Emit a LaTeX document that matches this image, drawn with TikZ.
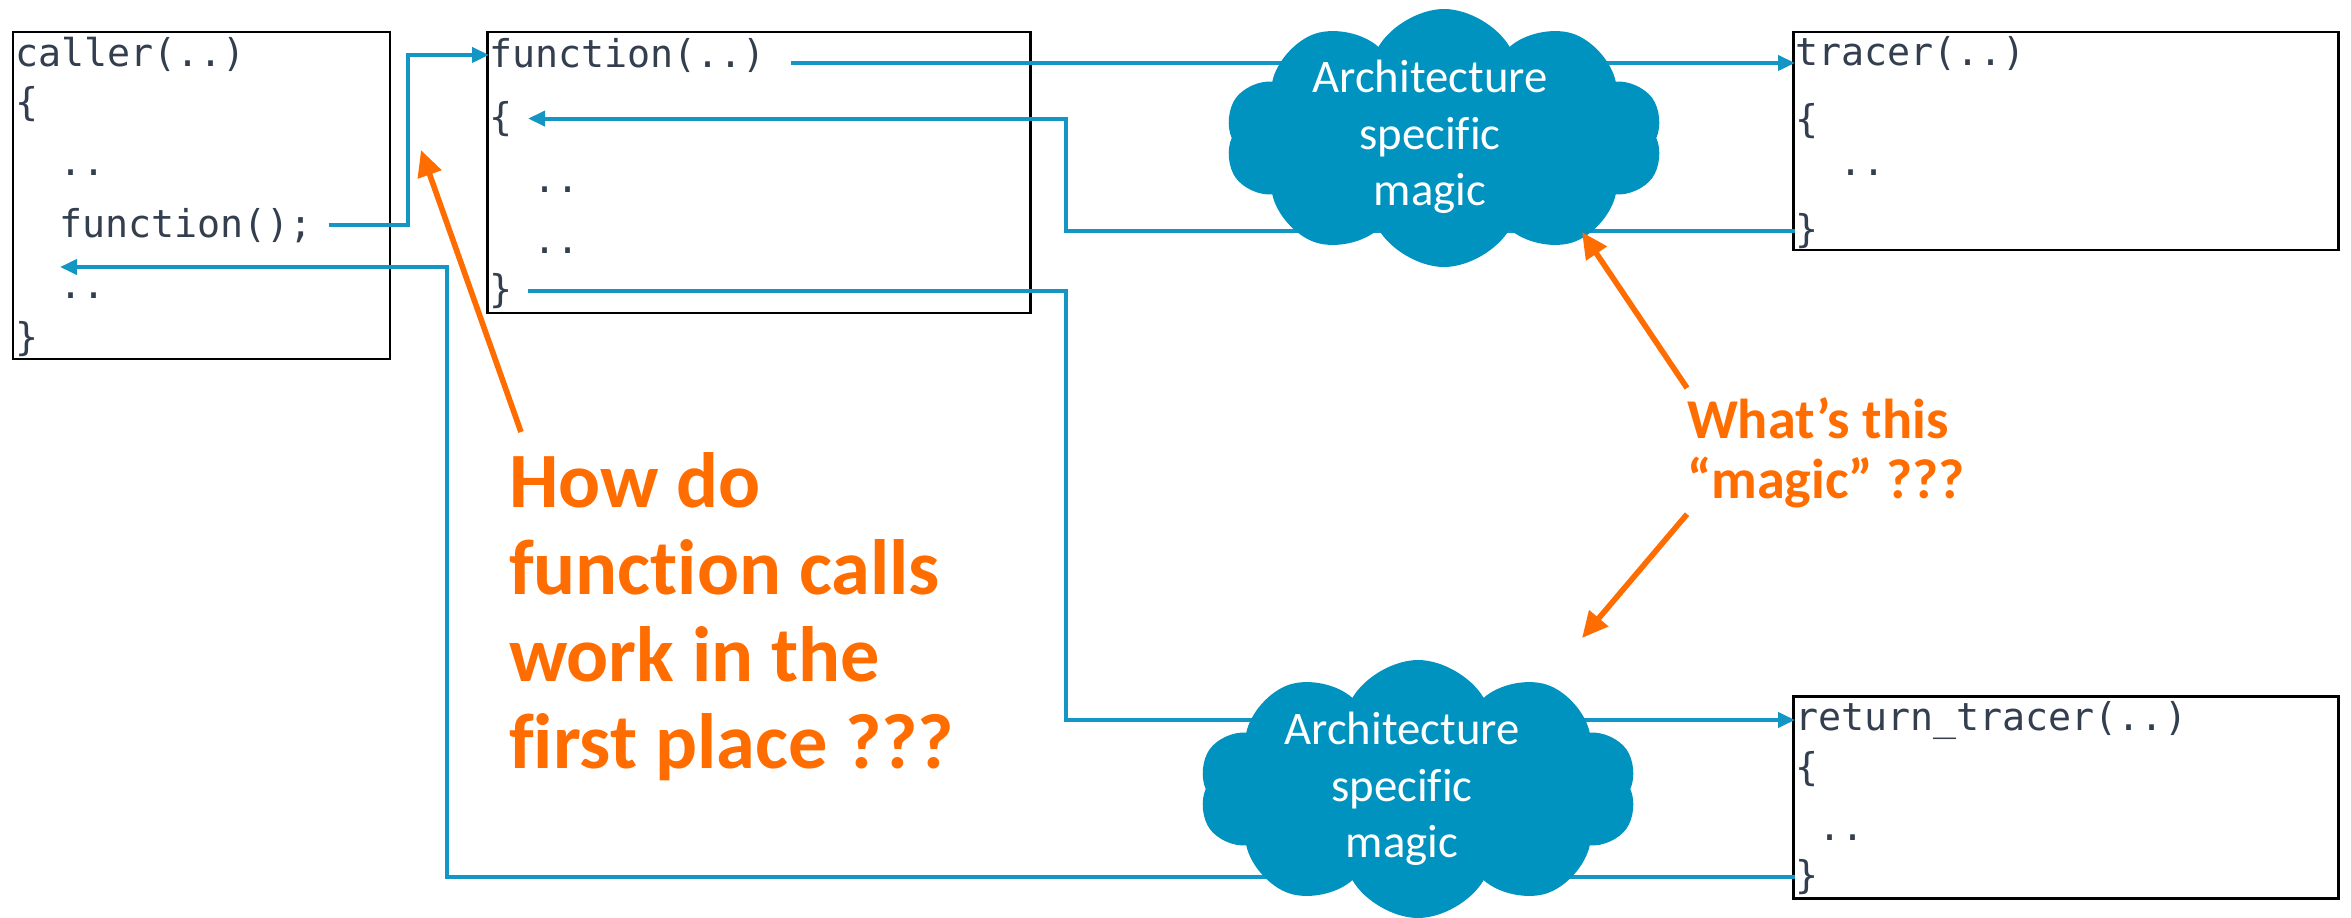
\documentclass[tikz,border=0pt]{standalone}
\usepackage{fontspec}
\setmainfont{Carlito}[Ligatures=CommonOff]
\newfontfamily\codefont{DejaVu Sans Mono}
\usepackage{tikz}
\usetikzlibrary{arrows.meta,positioning,shapes.symbols}

\definecolor{codegray}{HTML}{333F4F}
\definecolor{magicblue}{HTML}{0093BF}
\definecolor{wireblue}{HTML}{1396C3}
\definecolor{hintorange}{HTML}{FF6C00}

\begin{document}
\begin{tikzpicture}[x=0.1mm, y=-0.1mm, >={Triangle[length=1.7mm,width=1.5mm]},
    every node/.style={inner sep=0pt, outer sep=0pt},
    codebox/.style={draw=black, line width=0.85pt, anchor=north west},
    code/.style={anchor=base west, text=codegray, font=\codefont\fontsize{10.9}{13}\selectfont},
    wire/.style={->, draw=wireblue, line width=1.1pt},
    magic/.style={cloud, cloud puffs=10, cloud puff arc=120, cloud ignores aspect,
                  fill=magicblue, minimum width=43.8mm, minimum height=25.8mm},
    magictext/.style={text=white, align=center, font=\fontsize{13.3}{16}\selectfont},
    hint/.style={text=hintorange, align=left, anchor=north west, font=\bfseries\fontsize{22.3}{24.8}\selectfont},
    hintarrow/.style={-{Triangle[length=2.6mm,width=2.4mm]}, draw=hintorange, line width=1.6pt}
    ]
% \draw[help lines] (0,0) grid[step=100] (2351,917);
\useasboundingbox[fill=white] (0,0) rectangle (2351,917);

% the four code boxes
\node[codebox, minimum width=37.7mm, minimum height=32.7mm] (callerbox) at (13,32) {};
\node[codebox, minimum width=54.3mm, minimum height=28.1mm] (funcbox)   at (487,32) {};
\node[codebox, minimum width=54.5mm, minimum height=21.8mm] (tracerbox) at (1793,32) {};
\node[codebox, minimum width=54.5mm, minimum height=20.2mm] (retbox)    at (1793,696) {};

\node[code] (callerhead)  at (15,66)  {caller(..)};
\node[code] (calleropen)  at (15,115) {\{};
\node[code] (callerdots)  at (59,175) {..};
\node[code] (callercall)  at (59,237) {function();};
\node[code] (callerdotsb) at (59,298) {..};
\node[code] (callerclose) at (15,350) {\}};

\node[code] (funchead)  at (489,67)  {function(..)};
\node[code] (funcopen)  at (489,130) {\{};
\node[code] (funcdots)  at (533,192) {..};
\node[code] (funcdotsb) at (533,253) {..};
\node[code] (funcclose) at (489,302) {\}};

\node[code] (tracerhead)  at (1795,65)  {tracer(..)};
\node[code] (traceropen)  at (1795,132) {\{};
\node[code] (tracerdots)  at (1839,175) {..};
\node[code] (tracerclose) at (1795,242) {\}};

\node[code] (rethead)  at (1795,730) {return\_tracer(..)};
\node[code] (retopen)  at (1795,780) {\{};
\node[code] (retdots)  at (1818,840) {..};
\node[code] (retclose) at (1795,888) {\}};

\coordinate (backtocaller) at (60,267);
\coordinate (pokefirst)    at (421,150);
\coordinate (poketop)      at (1582,232);
\coordinate (pokebottom)   at (1582,638);

% call / return wires (they run under the clouds)
\draw[wire] ([xshift=1.6mm]callercall.east) -- ++(7.9mm,0) |- (funchead.west);
\draw[wire] ([xshift=2.5mm,yshift=-0.8mm]funchead.east) coordinate (funcout)
            -- (funcout -| tracerhead.west);
\draw[wire] (tracerclose.west) -- ++(-72.9mm,0) |- ([xshift=1.6mm]funcopen.east);
\draw[wire] ([xshift=1.6mm]funcclose.east) -- ++(53.8mm,0) |- (rethead.west);
\draw[wire] (retclose.west) -- ++(-134.8mm,0) |- (backtocaller);

% the magic
\node[magic] (topmagic) at (1444,138) {};
\node[magictext] (topmagictext) at (1430,137) {Architecture\\specific\\magic};
\node[magic] (lowmagic) at (1418,789) {};
\node[magictext] (lowmagictext) at (1402,789) {Architecture\\specific\\magic};

% questions
\node[hint] (howq) at (509,452) {How do\\function calls\\work in the\\first place ???};
\node[hint, font=\bfseries\fontsize{16}{17}\selectfont] (whatq) at (1687,398) {What’s this\\“magic” ???};

\draw[hintarrow] ([xshift=1.2mm,yshift=2mm]howq.north west) -- (pokefirst);
\draw[hintarrow] ([yshift=1mm]whatq.north west) -- (poketop);
\draw[hintarrow] ([yshift=-0.6mm]whatq.south west) -- (pokebottom);
\end{tikzpicture}
\end{document}
